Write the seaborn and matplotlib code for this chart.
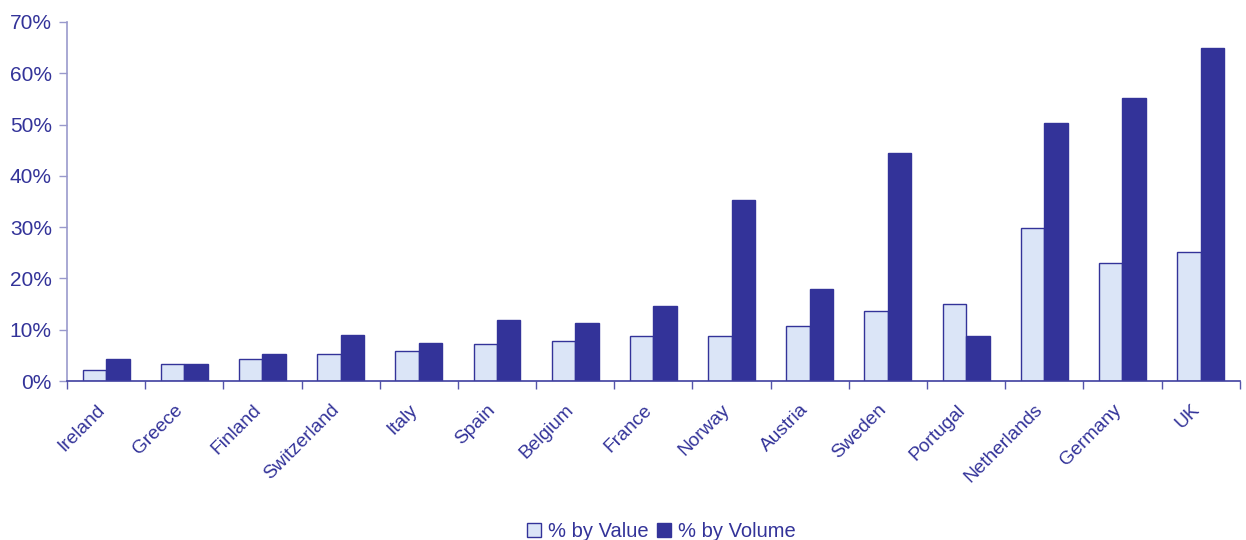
import matplotlib
matplotlib.use("Agg")
import matplotlib.pyplot as plt
import seaborn as sns
import pandas as pd
import numpy as np
from matplotlib.ticker import FixedLocator, PercentFormatter
from matplotlib.patches import Patch
from matplotlib.transforms import ScaledTranslation

countries = ["Ireland", "Greece", "Finland", "Switzerland", "Italy", "Spain",
             "Belgium", "France", "Norway", "Austria", "Sweden", "Portugal",
             "Netherlands", "Germany", "UK"]
by_value = [2.2, 3.3, 4.2, 5.2, 5.8, 7.3, 7.9, 8.8, 8.8, 10.7, 13.6, 15.1, 29.9, 23.0, 25.1]
by_volume = [4.3, 3.3, 5.2, 8.9, 7.4, 11.9, 11.3, 14.6, 35.2, 18.0, 44.5, 8.8, 50.3, 55.1, 65.0]
series_names = ["% by Value", "% by Volume"]
y_ticks = [0, 10, 20, 30, 40, 50, 60, 70]

TEXT = "#333399"
LIGHT = "#dbe5f7"
DARK = "#333399"
sns.set_theme(style="white")
plt.rcParams["font.family"] = ["Liberation Sans", "DejaVu Sans"]

df = pd.DataFrame({
    "country": countries * 2,
    "series": [series_names[0]] * len(countries) + [series_names[1]] * len(countries),
    "pct": by_value + by_volume,
})

fig = plt.figure(figsize=(12.46, 5.40), dpi=100)
ax = fig.add_axes([0.0538, 0.2944, 0.9412, 0.6649])

sns.barplot(data=df, x="country", y="pct", hue="series", order=countries,
            hue_order=series_names, palette={series_names[0]: LIGHT, series_names[1]: DARK},
            saturation=1, width=0.6, edgecolor=DARK, linewidth=1.0, ax=ax, legend=False)

ax.set_ylim(0, 70)
ax.set_xlim(-0.5, len(countries) - 0.5)
ax.yaxis.set_major_locator(FixedLocator(y_ticks))
ax.yaxis.set_major_formatter(PercentFormatter(decimals=0))
ax.set_xlabel("")
ax.set_ylabel("")

ax.set_xticks(np.arange(-0.5, len(countries), 1.0))
ax.set_xticklabels([])
ax.set_xticks(np.arange(len(countries)), minor=True)
ax.set_xticklabels(countries, minor=True, rotation=45, ha="right", va="center",
                   rotation_mode="anchor", fontsize=13.8, color=TEXT)
ax.tick_params(axis="x", which="minor", length=0, pad=19)
ax.tick_params(axis="x", which="major", length=6, width=1, color="#5555aa",
               direction="out", bottom=True)
ax.tick_params(axis="y", length=6, width=1, color="#9999cc", direction="out",
               left=True, labelsize=15, labelcolor=TEXT, pad=5)
offset = ScaledTranslation(-4 / 100, 0, fig.dpi_scale_trans)
for lab in ax.get_xticklabels(minor=True):
    lab.set_transform(lab.get_transform() + offset)

for s in ["top", "right"]:
    ax.spines[s].set_visible(False)
ax.spines["left"].set_color("#9999cc")
ax.spines["left"].set_linewidth(1.2)
ax.spines["bottom"].set_color("#3f3fa0")
ax.spines["bottom"].set_linewidth(1.2)

handles = [Patch(facecolor=LIGHT, edgecolor=DARK, linewidth=1.0),
           Patch(facecolor=DARK, edgecolor=DARK, linewidth=1.0)]
leg = fig.legend(handles, series_names, loc="lower center",
                 bbox_to_anchor=(0.531, -0.036), ncol=2, frameon=False,
                 fontsize=14.5, handlelength=0.7, handleheight=0.7,
                 handletextpad=0.35, columnspacing=0.4)
for t in leg.get_texts():
    t.set_color(TEXT)

fig.savefig("out.png", dpi=100)
